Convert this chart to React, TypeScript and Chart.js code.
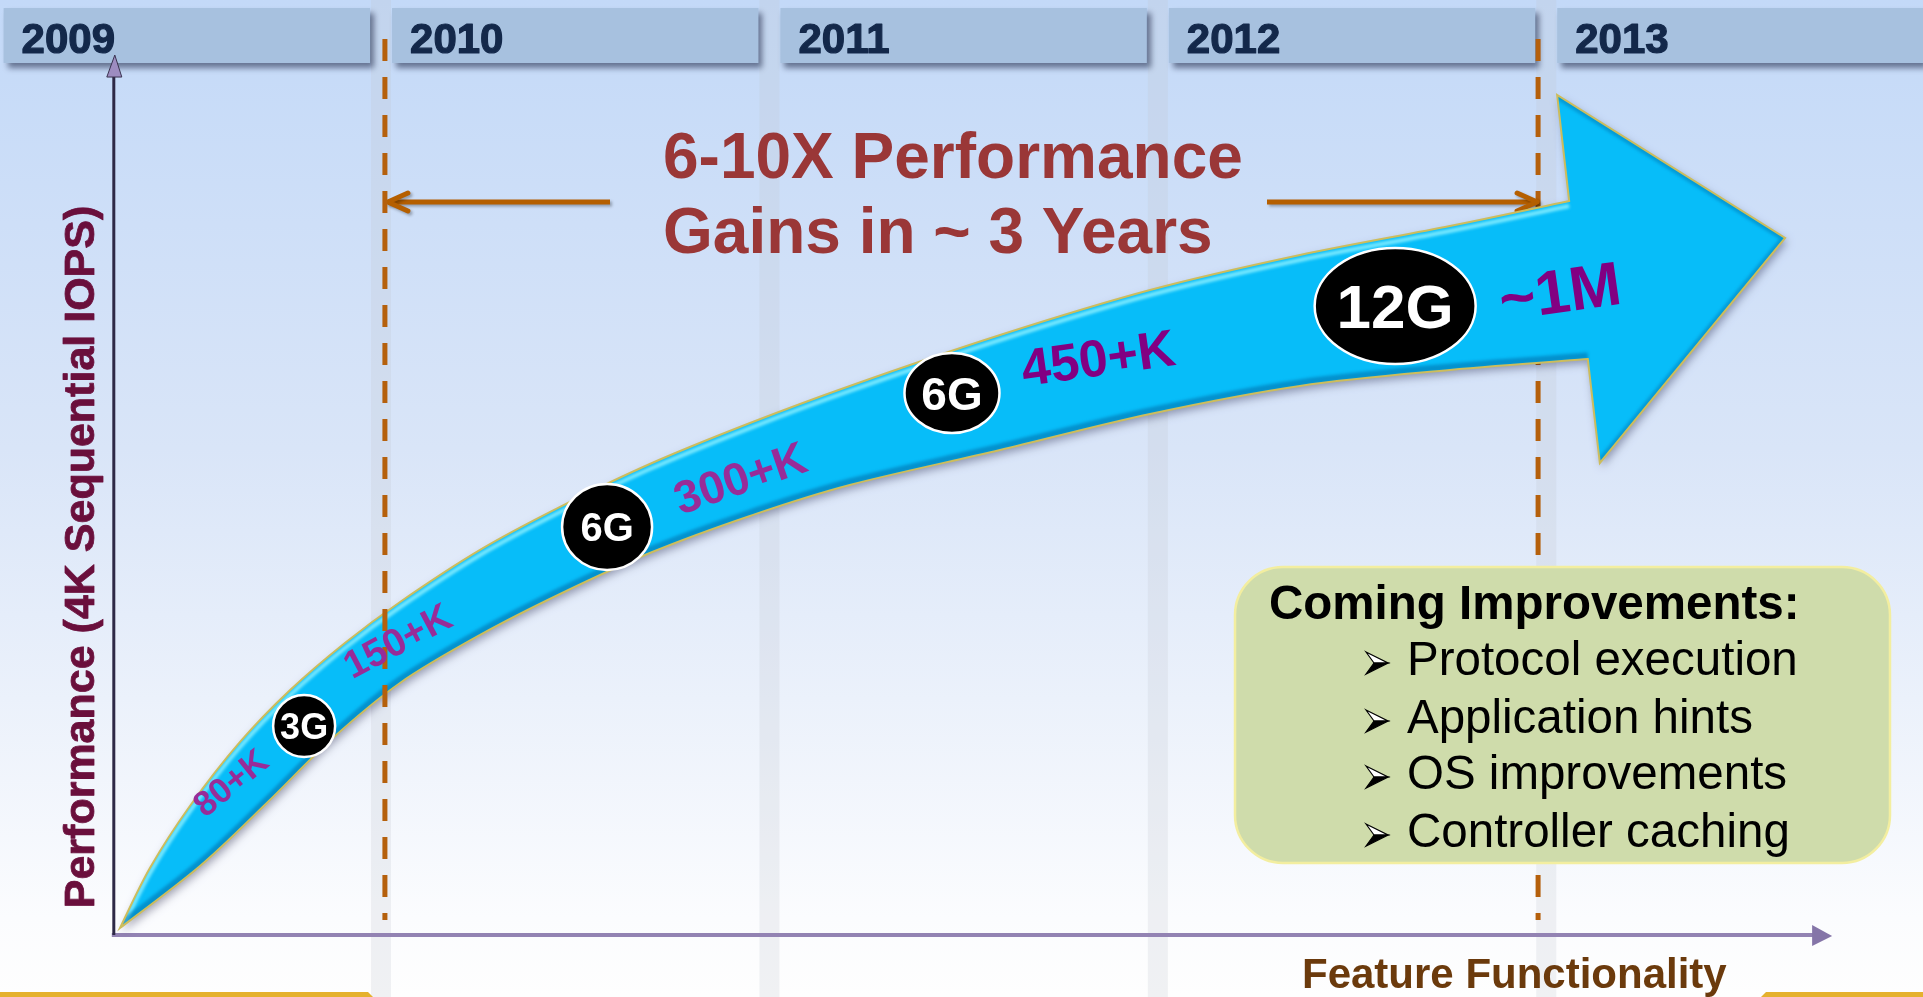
import React, { useEffect, useRef } from "react";
import { Chart, registerables } from "chart.js";

Chart.register(...registerables);

// ---------- data ----------
const YEARS = [2009, 2010, 2011, 2012, 2013];
const WINDOW_START = 2010.01;
const WINDOW_END = 2012.979;
const TITLE_LINES = ["6-10X Performance", "Gains in ~ 3 Years"];
const Y_TITLE = "Performance (4K Sequential IOPS)";
const X_TITLE = "Feature Functionality";

// performance ribbon (upper and lower edge of the growth arrow)
const upperX = [2009.328, 2009.405, 2009.508, 2009.637, 2009.766, 2009.907, 2010.049, 2010.255, 2010.461, 2010.692, 2010.95, 2011.207, 2011.594, 2011.98, 2012.366, 2012.752, 2013.059];
const upperY = [0.7, 6.72, 12.94, 19.36, 24.57, 29.29, 33.4, 38.62, 42.93, 47.24, 51.35, 55.07, 60.18, 64.69, 68.2, 71.11, 73.62];
const lowerX = [2009.328, 2009.534, 2009.706, 2009.876, 2010.049, 2010.255, 2010.461, 2010.692, 2010.95, 2011.207, 2011.594, 2011.98, 2012.366, 2012.752, 2013.107];
const lowerY = [0.7, 6.92, 13.24, 19.76, 25.28, 30.09, 34.2, 38.31, 42.03, 45.14, 48.65, 52.26, 55.07, 56.67, 57.77];
// arrow head: back-top, tip, back-bottom
const headX = [2013.028, 2013.615, 2013.138];
const headY = [84.25, 69.91, 47.34];

// link-speed milestones
const speedLabels = ["3G", "6G", "6G", "12G"];
const speedX = [2009.802, 2010.582, 2011.47, 2012.611];
const speedY = [20.96, 40.92, 54.36, 63.09];

// IOPS labels
const iopsLabels = ["80+K", "150+K", "300+K", "450+K", "~1M"];
const iopsX = [2009.611, 2010.041, 2010.924, 2011.846, 2013.035];
const iopsY = [15.35, 29.59, 45.94, 57.97, 64.69];

const improvementsTitle = "Coming Improvements:";
const improvements = ["Protocol execution", "Application hints", "OS improvements", "Controller caching"];

// axis origin / ends
const AXIS_ORIGIN_X = 2009.312;
const AXIS_ORIGIN_Y = 0;
const AXIS_X_END = 2013.736;
const AXIS_Y_END = 88.26;

// ---------- styles ----------
const W = 1923;
const H = 997;
const FONT = "'Liberation Sans', Arial, Helvetica, sans-serif";
const BADGE_RX = [31, 45, 47.5, 80.5];
const BADGE_RY = [31, 43, 40, 58];
const BADGE_FONT = [36, 40, 46, 62];
const IOPS_ANGLE = [-39, -28, -19, -8, -8];
const IOPS_FONT = [35, 39, 46, 52, 62];
const IOPS_COLOR = ["#982c98", "#982c98", "#982c98", "#820082", "#820082"];

type P = { x: number; y: number };

function smooth(ctx: CanvasRenderingContext2D, pts: P[], move: boolean) {
  if (move) ctx.moveTo(pts[0].x, pts[0].y);
  else ctx.lineTo(pts[0].x, pts[0].y);
  for (let i = 0; i < pts.length - 1; i++) {
    const p0 = pts[i - 1] || pts[i];
    const p1 = pts[i];
    const p2 = pts[i + 1];
    const p3 = pts[i + 2] || p2;
    const t = 1 / 6;
    ctx.bezierCurveTo(
      p1.x + (p2.x - p0.x) * t,
      p1.y + (p2.y - p0.y) * t,
      p2.x - (p3.x - p1.x) * t,
      p2.y - (p3.y - p1.y) * t,
      p2.x,
      p2.y
    );
  }
}

function boldText(ctx: CanvasRenderingContext2D, s: string, x: number, y: number, w: number) {
  ctx.lineWidth = w;
  ctx.lineJoin = "round";
  ctx.strokeStyle = ctx.fillStyle as string;
  ctx.strokeText(s, x, y);
  ctx.fillText(s, x, y);
}

const infographic = {
  id: "infographic",
  afterDraw(chart: any) {
    const ctx: CanvasRenderingContext2D = chart.ctx;
    const xs = chart.scales.x;
    const ys = chart.scales.y;
    const X = (v: number) => xs.getPixelForValue(v);
    const Y = (v: number) => ys.getPixelForValue(v);

    ctx.save();
    // background
    const g = ctx.createLinearGradient(0, 0, 0, H);
    g.addColorStop(0, "#c3d9f8");
    g.addColorStop(0.45, "#d9e5f8");
    g.addColorStop(0.7, "#ebf1fb");
    g.addColorStop(0.92, "#fbfcfe");
    g.addColorStop(1, "#fefefe");
    ctx.fillStyle = g;
    ctx.fillRect(0, 0, W, H);

    // column gaps
    ctx.fillStyle = "rgba(190,195,205,0.22)";
    for (let i = 1; i < YEARS.length; i++) {
      const gx = X(YEARS[i]);
      ctx.fillRect(gx - 10, 0, 20, H);
    }

    // year headers
    for (let i = 0; i < YEARS.length; i++) {
      const l = X(YEARS[i]) + 11;
      const r = Math.min(X(YEARS[i] + 1) - 11, W);
      ctx.save();
      ctx.shadowColor = "rgba(20,30,60,0.55)";
      ctx.shadowBlur = 6;
      ctx.shadowOffsetX = 4;
      ctx.shadowOffsetY = 5;
      ctx.fillStyle = "#a7c1df";
      ctx.fillRect(l, 8, r - l, 55);
      ctx.restore();
      ctx.fillStyle = "#13284a";
      ctx.font = `bold 42px ${FONT}`;
      ctx.textAlign = "left";
      ctx.textBaseline = "alphabetic";
      boldText(ctx, String(YEARS[i]), l + 18, 53, 1.2);
    }

    // axes
    const ox = X(AXIS_ORIGIN_X);
    const oy = Y(AXIS_ORIGIN_Y);
    const yTop = Y(AXIS_Y_END);
    const xEnd = X(AXIS_X_END);
    ctx.strokeStyle = "#9383b3";
    ctx.lineWidth = 4;
    ctx.beginPath();
    ctx.moveTo(ox - 2, oy);
    ctx.lineTo(xEnd - 18, oy);
    ctx.stroke();
    ctx.fillStyle = "#8575a8";
    ctx.beginPath();
    ctx.moveTo(xEnd, oy + 1);
    ctx.lineTo(xEnd - 20, oy - 10);
    ctx.lineTo(xEnd - 20, oy + 11);
    ctx.closePath();
    ctx.fill();

    ctx.strokeStyle = "#2e2946";
    ctx.lineWidth = 3;
    ctx.beginPath();
    ctx.moveTo(ox, oy);
    ctx.lineTo(ox, yTop + 20);
    ctx.stroke();
    ctx.fillStyle = "#9d8cc0";
    ctx.strokeStyle = "#3a3350";
    ctx.lineWidth = 1;
    ctx.beginPath();
    ctx.moveTo(ox + 1, yTop);
    ctx.lineTo(ox - 7, yTop + 22);
    ctx.lineTo(ox + 8, yTop + 22);
    ctx.closePath();
    ctx.fill();
    ctx.stroke();

    const dashed = (yr: number) => {
      ctx.save();
      ctx.strokeStyle = "#b5600c";
      ctx.lineWidth = 5;
      ctx.setLineDash([22, 16]);
      ctx.beginPath();
      ctx.moveTo(X(yr), 39);
      ctx.lineTo(X(yr), 920);
      ctx.stroke();
      ctx.restore();
    };
    dashed(WINDOW_END);

    // window arrows
    const ay = 202;
    ctx.save();
    ctx.shadowColor = "rgba(0,0,0,0.3)";
    ctx.shadowBlur = 3;
    ctx.shadowOffsetX = 2;
    ctx.shadowOffsetY = 2;
    ctx.strokeStyle = "#b55f00";
    ctx.lineWidth = 5;
    const lx = X(WINDOW_START) + 3;
    const rx = X(WINDOW_END) - 1;
    ctx.beginPath();
    ctx.moveTo(610, ay);
    ctx.lineTo(lx, ay);
    ctx.moveTo(1267, ay);
    ctx.lineTo(rx, ay);
    ctx.stroke();
    ctx.lineCap = "round";
    ctx.lineJoin = "round";
    ctx.beginPath();
    ctx.moveTo(lx + 20, ay - 9);
    ctx.lineTo(lx, ay);
    ctx.lineTo(lx + 20, ay + 9);
    ctx.moveTo(rx - 20, ay - 9);
    ctx.lineTo(rx, ay);
    ctx.lineTo(rx - 20, ay + 9);
    ctx.stroke();
    ctx.restore();

    // title
    ctx.fillStyle = "#9a3737";
    ctx.font = `bold 64px ${FONT}`;
    ctx.textAlign = "left";
    ctx.fillText(TITLE_LINES[0], 663, 178);
    ctx.fillText(TITLE_LINES[1], 663, 253);

    // ribbon
    const up = upperX.map((x, i) => ({ x: X(x), y: Y(upperY[i]) }));
    const lo = lowerX.map((x, i) => ({ x: X(x), y: Y(lowerY[i]) }));
    const hd = headX.map((x, i) => ({ x: X(x), y: Y(headY[i]) }));
    const loRev = lo.slice().reverse();
    const ribbon = () => {
      ctx.beginPath();
      smooth(ctx, up, true);
      ctx.lineTo(hd[0].x, hd[0].y);
      ctx.lineTo(hd[1].x, hd[1].y);
      ctx.lineTo(hd[2].x, hd[2].y);
      ctx.lineTo(loRev[0].x, loRev[0].y);
      smooth(ctx, loRev, false);
      ctx.closePath();
    };
    ctx.save();
    ctx.shadowColor = "rgba(0,0,40,0.35)";
    ctx.shadowBlur = 8;
    ctx.shadowOffsetX = 2;
    ctx.shadowOffsetY = 4;
    ribbon();
    ctx.fillStyle = "#07bdf9";
    ctx.fill();
    ctx.restore();

    ctx.save();
    ribbon();
    ctx.clip();
    ctx.filter = "blur(1.5px)";
    ctx.save();
    ctx.translate(0, 5);
    ctx.beginPath();
    smooth(ctx, up, true);
    ctx.strokeStyle = "rgba(130,236,255,0.95)";
    ctx.lineWidth = 4;
    ctx.stroke();
    ctx.restore();
    ctx.save();
    ctx.translate(0, -3);
    ctx.beginPath();
    smooth(ctx, lo, true);
    ctx.strokeStyle = "rgba(0,110,170,0.55)";
    ctx.lineWidth = 7;
    ctx.stroke();
    ctx.restore();
    ctx.beginPath();
    ctx.moveTo(hd[0].x, hd[0].y);
    ctx.lineTo(hd[1].x, hd[1].y);
    ctx.lineTo(hd[2].x, hd[2].y);
    ctx.strokeStyle = "rgba(0,120,180,0.5)";
    ctx.lineWidth = 8;
    ctx.stroke();
    ctx.filter = "none";
    ctx.restore();

    ribbon();
    ctx.strokeStyle = "#cdbd5c";
    ctx.lineWidth = 2;
    ctx.lineJoin = "miter";
    ctx.stroke();

    dashed(WINDOW_START);

    // speed badges
    for (let i = 0; i < speedLabels.length; i++) {
      const cx = X(speedX[i]);
      const cy = Y(speedY[i]);
      ctx.beginPath();
      ctx.ellipse(cx, cy, BADGE_RX[i], BADGE_RY[i], 0, 0, Math.PI * 2);
      ctx.fillStyle = "#000";
      ctx.fill();
      ctx.strokeStyle = "#fff";
      ctx.lineWidth = 2.5;
      ctx.stroke();
      ctx.fillStyle = "#fff";
      ctx.font = `bold ${BADGE_FONT[i]}px ${FONT}`;
      ctx.textAlign = "center";
      ctx.textBaseline = "alphabetic";
      ctx.fillText(speedLabels[i], cx, cy + BADGE_FONT[i] * 0.36);
    }

    // IOPS labels
    for (let i = 0; i < iopsLabels.length; i++) {
      ctx.save();
      ctx.translate(X(iopsX[i]), Y(iopsY[i]));
      ctx.rotate((IOPS_ANGLE[i] * Math.PI) / 180);
      ctx.fillStyle = IOPS_COLOR[i];
      ctx.font = `bold ${IOPS_FONT[i]}px ${FONT}`;
      ctx.textAlign = "center";
      ctx.textBaseline = "alphabetic";
      ctx.fillText(iopsLabels[i], 0, IOPS_FONT[i] * 0.36);
      ctx.restore();
    }

    // improvements box
    ctx.beginPath();
    ctx.roundRect(1235, 567, 655, 296, 48);
    ctx.fillStyle = "#cfdcab";
    ctx.fill();
    ctx.strokeStyle = "#f3eea0";
    ctx.lineWidth = 2.5;
    ctx.stroke();
    ctx.fillStyle = "#000";
    ctx.textAlign = "left";
    ctx.textBaseline = "alphabetic";
    ctx.font = `bold 47.5px ${FONT}`;
    ctx.fillText(improvementsTitle, 1269, 619);
    const baselines = [675, 733, 789, 847];
    ctx.font = `47.5px ${FONT}`;
    for (let i = 0; i < improvements.length; i++) {
      const bl = baselines[i];
      ctx.lineWidth = 1.2;
      ctx.strokeStyle = "#000";
      ctx.beginPath();
      ctx.moveTo(1366, bl - 23);
      ctx.lineTo(1388, bl - 12);
      ctx.lineTo(1374, bl - 12);
      ctx.closePath();
      ctx.fillStyle = "#fff";
      ctx.fill();
      ctx.stroke();
      ctx.beginPath();
      ctx.moveTo(1374, bl - 12);
      ctx.lineTo(1388, bl - 12);
      ctx.lineTo(1366, bl - 1);
      ctx.closePath();
      ctx.fillStyle = "#000";
      ctx.fill();
      ctx.stroke();
      ctx.fillStyle = "#000";
      ctx.fillText(improvements[i], 1407, bl);
    }

    // axis titles
    ctx.save();
    ctx.translate(94, 557);
    ctx.rotate(-Math.PI / 2);
    ctx.fillStyle = "#6a0f3c";
    ctx.font = `bold 43px ${FONT}`;
    ctx.textAlign = "center";
    boldText(ctx, Y_TITLE, 0, 0, 0.8);
    ctx.restore();

    ctx.fillStyle = "#6b3a0c";
    ctx.font = `bold 42px ${FONT}`;
    ctx.textAlign = "left";
    ctx.fillText(X_TITLE, 1302, 988);

    // bottom gold strips
    ctx.fillStyle = "#e5b12e";
    ctx.beginPath();
    ctx.moveTo(0, 992);
    ctx.lineTo(368, 992);
    ctx.lineTo(373, 997);
    ctx.lineTo(0, 997);
    ctx.closePath();
    ctx.fill();
    ctx.beginPath();
    ctx.moveTo(1766, 992);
    ctx.lineTo(W, 992);
    ctx.lineTo(W, 997);
    ctx.lineTo(1761, 997);
    ctx.closePath();
    ctx.fill();

    ctx.restore();
  },
};

export default function App() {
  const ref = useRef<HTMLCanvasElement>(null);
  useEffect(() => {
    document.body.style.margin = "0";
    document.body.style.overflow = "hidden";
    const chart = new Chart(ref.current as HTMLCanvasElement, {
      type: "scatter",
      data: { datasets: [] },
      options: {
        animation: false,
        responsive: false,
        devicePixelRatio: 1,
        layout: { padding: 0 },
        plugins: { legend: { display: false }, tooltip: { enabled: false } },
        scales: {
          x: { type: "linear", min: 2009.019, max: 2013.97, display: false },
          y: { type: "linear", min: -6.22, max: 93.78, display: false },
        },
      },
      plugins: [infographic],
    } as any);
    return () => chart.destroy();
  }, []);
  return (
    <canvas
      ref={ref}
      width={W}
      height={H}
      style={{ display: "block", width: W, height: H }}
    />
  );
}
